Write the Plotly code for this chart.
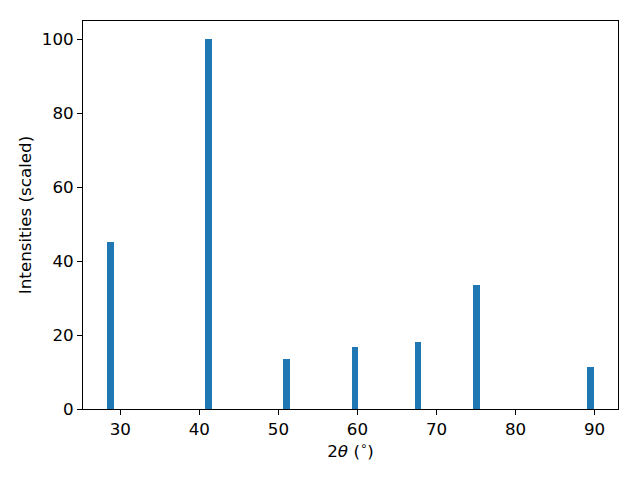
import plotly.graph_objects as go

two_theta = [28.76, 41.16, 51.04, 59.70, 67.63, 75.06, 89.48]
intensity = [45.2, 100.0, 13.5, 16.8, 18.2, 33.6, 11.4]
x_ticks = [30, 40, 50, 60, 70, 80, 90]
y_ticks = [0, 20, 40, 60, 80, 100]

fig = go.Figure()
fig.add_trace(go.Bar(x=two_theta, y=intensity, width=0.8,
                     marker=dict(color="#1f77b4", line=dict(width=0))))

axis_common = dict(showline=True, linecolor="black", linewidth=1, mirror=True,
                   ticks="outside", ticklen=5, tickwidth=1, tickcolor="black",
                   showgrid=False, zeroline=False, automargin=False,
                   tickfont=dict(family="DejaVu Sans", size=16.7, color="black"))

fig.update_layout(
    width=640, height=480,
    margin=dict(l=75, r=30, t=13, b=79),
    paper_bgcolor="white", plot_bgcolor="white",
    showlegend=False,
    bargap=0,
    xaxis=dict(range=[25.28, 92.96], tickvals=x_ticks,
               title=dict(text="2<i>θ</i> (<sup>∘</sup>)", standoff=7,
                          font=dict(family="DejaVu Sans", size=16.7, color="black")),
               **axis_common),
    yaxis=dict(range=[0, 105], tickvals=y_ticks,
               title=dict(text="Intensities (scaled)", standoff=5,
                          font=dict(family="DejaVu Sans", size=16.7, color="black")),
               **axis_common),
)

fig.write_html("out.html")
